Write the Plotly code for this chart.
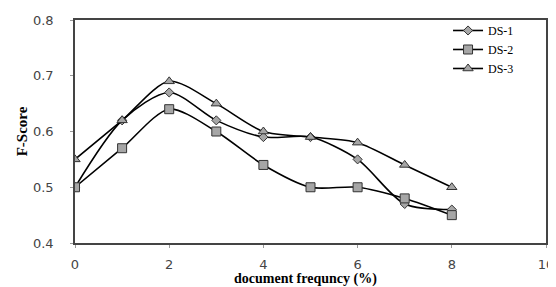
import plotly.graph_objects as go

x_vals = [0, 1, 2, 3, 4, 5, 6, 7, 8]
ds1 = [0.50, 0.62, 0.67, 0.62, 0.59, 0.59, 0.55, 0.47, 0.46]
ds2 = [0.50, 0.57, 0.64, 0.60, 0.54, 0.50, 0.50, 0.48, 0.45]
ds3 = [0.55, 0.62, 0.69, 0.65, 0.60, 0.59, 0.58, 0.54, 0.50]
names = ["DS-1", "DS-2", "DS-3"]
symbols = ["diamond", "square", "triangle-up"]
sizes = [7, 9, 9]
x_title = "<b>document frequncy (%)</b>"
y_title = "<b>F-Score</b>"

fig = go.Figure()
for name, ys, sym, sz in zip(names, [ds1, ds2, ds3], symbols, sizes):
    fig.add_trace(go.Scatter(
        x=x_vals, y=ys, name=name, mode="lines+markers",
        line=dict(color="black", width=1.6, shape="spline", smoothing=0.8),
        marker=dict(symbol=sym, size=sz, color="#a6a6a6",
                    line=dict(color="#333333", width=1)),
    ))

fig.update_layout(
    width=556, height=287,
    margin=dict(l=67, r=18, t=8, b=52),
    plot_bgcolor="white", paper_bgcolor="white",
    showlegend=True,
    legend=dict(x=0.792, y=1.018, xanchor="left", yanchor="top",
                font=dict(family="Liberation Serif", size=12, color="black"),
                bgcolor="rgba(0,0,0,0)", tracegroupgap=0, itemwidth=30,
                borderwidth=0),
    font=dict(family="DejaVu Sans", size=12, color="#444444"),
)
fig.add_annotation(
    text=x_title, xref="paper", yref="paper", x=0.49, y=-0.163,
    xanchor="center", yanchor="middle", showarrow=False,
    font=dict(family="Liberation Serif", size=14, color="black"),
)
fig.update_xaxes(
    range=[0, 10], tickvals=[0, 2, 4, 6, 8, 10], ticks="outside", ticklen=3,
    tickcolor="#999999", showgrid=False, zeroline=False, automargin=False,
    showline=True, linecolor="#444444", linewidth=1.5, mirror=True,
    ticklabelstandoff=6,
    tickfont=dict(family="DejaVu Sans", size=13, color="#444444"),
)
fig.update_yaxes(
    range=[0.4, 0.8], tickvals=[0.4, 0.5, 0.6, 0.7, 0.8], tickformat=".1f",
    ticks="outside", ticklen=3, tickcolor="#999999", automargin=False,
    showgrid=False, zeroline=False,
    showline=True, linecolor="#444444", linewidth=1.5, mirror=True,
    ticklabelstandoff=14,
    tickfont=dict(family="DejaVu Sans", size=13, color="#444444"),
    title=dict(text=y_title,
               font=dict(family="Liberation Serif", size=15, color="black"),
               standoff=2),
)
fig.write_html("out.html")
